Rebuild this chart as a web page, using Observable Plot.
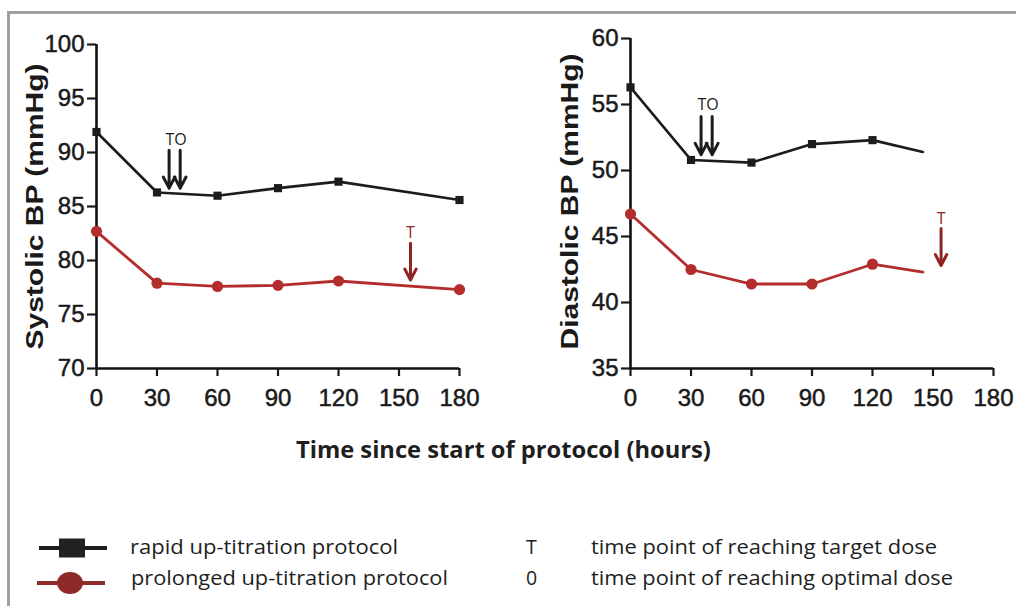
<!DOCTYPE html>
<html><head><meta charset="utf-8">
<script src="https://cdn.jsdelivr.net/npm/d3@7"></script>
<script src="https://cdn.jsdelivr.net/npm/@observablehq/plot@0.6"></script>
<style>
body{margin:0;background:#fff;}
#wrap{position:relative;width:1016px;height:606px;overflow:hidden;background:#fff;}
#frame{position:absolute;left:7px;top:11px;width:1020px;height:600px;border-top:3px solid #a0a0a0;border-left:3px solid #a0a0a0;}
.panel{position:absolute;top:0;}
.fit{position:absolute;white-space:nowrap;transform-origin:0 0;color:#1e1e1e;}
#xtitle{font:bold 23px "Open Sans",sans-serif;}
.leg{font:19.5px "Open Sans",sans-serif;}
</style></head><body>
<div id="wrap">
<div id="frame"></div>
<div id="left" class="panel" style="left:0"></div>
<div id="right" class="panel" style="left:500px"></div>
<div id="xtitle" class="fit" data-x="296" data-w="415" data-y="433">Time since start of protocol (hours)</div>
<svg id="sw" width="1016" height="606" style="position:absolute;left:0;top:0;pointer-events:none"></svg>
<div class="fit leg" data-x="130" data-w="268" data-y="533">rapid up-titration protocol</div>
<div class="fit leg" data-x="131" data-w="317" data-y="564">prolonged up-titration protocol</div>
<div class="fit leg" data-x="526" data-y="533">T</div>
<div class="fit leg" data-x="526" data-y="564">0</div>
<div class="fit leg" data-x="591" data-w="346" data-y="533">time point of reaching target dose</div>
<div class="fit leg" data-x="591" data-w="362" data-y="564">time point of reaching optimal dose</div>
</div>
<script>
// ---- data ----
const xTicks = [0, 30, 60, 90, 120, 150, 180];
const sysTicks = [70, 75, 80, 85, 90, 95, 100];
const diaTicks = [35, 40, 45, 50, 55, 60];

const sysTimes = [0, 30, 60, 90, 120, 180];
const sysRapid = [91.9, 86.3, 86.0, 86.7, 87.3, 85.6];
const sysProlonged = [82.7, 77.9, 77.6, 77.7, 78.1, 77.3];

const diaTimes = [0, 30, 60, 90, 120, 145];
const diaRapid = [56.3, 50.8, 50.6, 52.0, 52.3, 51.4];
const diaProlonged = [46.7, 42.5, 41.4, 41.4, 42.9, 42.3];

// annotation arrows: time, start value, end value, group
const sysArrows = [
  {t: 36, v1: 90.2, v2: 86.7, g: "rapid"},
  {t: 41.5, v1: 90.2, v2: 86.7, g: "rapid"},
  {t: 155.7, v1: 81.6, v2: 78.2, g: "prolonged"}
];
const sysNotes = [
  {t: 39.5, v: 91.2, text: "TO", g: "rapid"},
  {t: 155.7, v: 82.6, text: "T", g: "prolonged"}
];
const diaArrows = [
  {t: 35, v1: 54.1, v2: 51.2, g: "rapid"},
  {t: 40.5, v1: 54.1, v2: 51.2, g: "rapid"},
  {t: 154, v1: 45.6, v2: 42.8, g: "prolonged"}
];
const diaNotes = [
  {t: 38.5, v: 55.0, text: "TO", g: "rapid"},
  {t: 154, v: 46.3, text: "T", g: "prolonged"}
];

const BLACK = "#1c1c1c", RED = "#b32d2c", DARKRED = "#8e2424";
const arrowColor = g => g === "rapid" ? BLACK : DARKRED;

function panel(o) {
  const rapid = o.times.map((t, i) => ({t, v: o.rapid[i]}));
  const prolonged = o.times.map((t, i) => ({t, v: o.prolonged[i]}));
  const last = o.times[o.times.length - 1];
  const measured = d => xTicks.includes(d.t) && (d.t <= 120 || last === 180);
  return Plot.plot({
    width: o.width, height: 418,
    marginLeft: o.marginLeft, marginRight: o.marginRight, marginTop: o.marginTop, marginBottom: 50,
    x: {domain: [0, 180]},
    y: {domain: o.yDomain},
    style: {fontFamily: "'Liberation Sans Narrow','Liberation Sans',sans-serif", fontSize: "24px", color: "#1a1a1a", overflow: "visible", background: "transparent"},
    marks: [
      Plot.axisX({ticks: xTicks, tickSize: 8, tickPadding: 12, label: null, strokeWidth: 2.2, fontSize: 24, className: "tk"}),
      Plot.axisY({ticks: o.yTicks, tickSize: 9, tickPadding: 3, label: null, strokeWidth: 2.2, fontSize: 24, className: "tk"}),
      Plot.ruleX([0], {strokeWidth: 2.6, stroke: "#111"}),
      Plot.ruleY([o.yDomain[0]], {strokeWidth: 2.6, stroke: "#111"}),
      Plot.line(rapid, {x: "t", y: "v", stroke: BLACK, strokeWidth: 2.6}),
      Plot.line(prolonged, {x: "t", y: "v", stroke: RED, strokeWidth: 2.8}),
      Plot.dot(rapid.filter(measured), {x: "t", y: "v", symbol: "square", r: 4.6, fill: BLACK}),
      Plot.dot(prolonged.filter(measured), {x: "t", y: "v", r: 5.6, fill: RED}),
      Plot.arrow(o.arrows, {x1: "t", x2: "t", y1: "v1", y2: "v2", stroke: d => arrowColor(d.g), strokeWidth: 3, headLength: 9, headAngle: 55}),
      Plot.text(o.notes, {x: "t", y: "v", text: "text", fill: d => arrowColor(d.g), fontSize: 16, fontFamily: "'Open Sans',sans-serif"}),
      Plot.text([o.label], {frameAnchor: "left", textAnchor: "middle", dx: o.labelDx, dy: o.labelDy, rotate: -90, fontSize: 30, fontWeight: "bold", fontFamily: "'Liberation Sans',Arial,sans-serif", fill: "#1a1a1a", className: "ylab"})
    ]
  });
}

const left = panel({width: 500, marginLeft: 96, marginRight: 41, marginTop: 44,
  times: sysTimes, rapid: sysRapid, prolonged: sysProlonged,
  yDomain: [70, 100], yTicks: sysTicks, arrows: sysArrows, notes: sysNotes,
  label: "Systolic BP (mmHg)", labelDx: -61, labelDy: 0});
const right = panel({width: 516, marginLeft: 130, marginRight: 23, marginTop: 38,
  times: diaTimes, rapid: diaRapid, prolonged: diaProlonged,
  yDomain: [35, 60], yTicks: diaTicks, arrows: diaArrows, notes: diaNotes,
  label: "Diastolic BP (mmHg)", labelDx: -60, labelDy: -2});
document.getElementById("left").appendChild(left);
document.getElementById("right").appendChild(right);

// squeeze the rotated axis titles like the reference
d3.selectAll(".ylab text").each(function() {
  const t = d3.select(this).attr("transform") || "";
  d3.select(this).attr("transform", t + " scale(1,0.8)");
});
// slightly heavier tick labels
d3.selectAll("g.tk text").attr("stroke", "#1a1a1a").attr("stroke-width", 0.5);

// legend swatches (drawn with d3)
const sw = d3.select("#sw");
sw.append("line").attr("x1", 39).attr("x2", 107).attr("y1", 548).attr("y2", 548).attr("stroke", BLACK).attr("stroke-width", 4);
sw.append("rect").attr("x", 59).attr("y", 538.5).attr("width", 26).attr("height", 19).attr("fill", "#222");
sw.append("line").attr("x1", 37).attr("x2", 105).attr("y1", 583).attr("y2", 583).attr("stroke", "#8e2a2a").attr("stroke-width", 4);
sw.append("ellipse").attr("cx", 70).attr("cy", 583).attr("rx", 13).attr("ry", 11).attr("fill", "#8e2a2a");

// place & fit text blocks
document.querySelectorAll(".fit").forEach(el => {
  el.style.left = el.dataset.x + "px";
  el.style.top = el.dataset.y + "px";
  if (el.dataset.w) {
    const w = el.getBoundingClientRect().width;
    el.style.transform = `scaleX(${(+el.dataset.w / w).toFixed(3)})`;
  }
});
</script>
</body></html>
